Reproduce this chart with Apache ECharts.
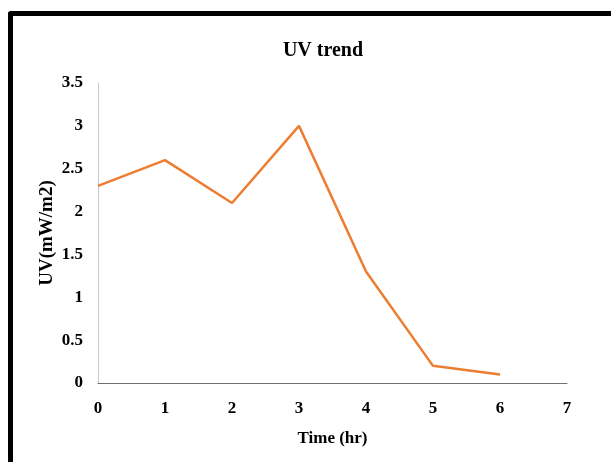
<!DOCTYPE html>
<html>
<head>
<meta charset="utf-8">
<script src="https://cdn.jsdelivr.net/npm/echarts@6/dist/echarts.min.js"></script>
<style>
  html, body { margin: 0; padding: 0; background: #fff; }
  #chart { width: 611px; height: 462px; }
</style>
</head>
<body>
<div id="chart"></div>
<script>
// Hourly UV readings
const hours = [0, 1, 2, 3, 4, 5, 6];
const uvValues = [2.3, 2.6, 2.1, 3.0, 1.3, 0.2, 0.1];

const serifBold = {
  fontFamily: '"Liberation Serif", "Times New Roman", serif',
  fontWeight: 'bold',
  color: '#000'
};

const chart = echarts.init(document.getElementById('chart'));
chart.setOption({
  animation: false,
  title: {
    text: 'UV trend',
    left: 318,
    top: 36,
    textAlign: 'center',
    textStyle: Object.assign({ fontSize: 20 }, serifBold)
  },
  grid: { left: 98, top: 83, right: 44, bottom: 79 },
  xAxis: {
    type: 'value',
    min: 0,
    max: 7,
    interval: 1,
    name: 'Time (hr)',
    nameLocation: 'middle',
    nameGap: 47,
    nameMoveOverlap: false,
    nameTextStyle: Object.assign({ fontSize: 17 }, serifBold),
    axisLine: { lineStyle: { color: '#707070', width: 1 } },
    axisTick: { show: false },
    splitLine: { show: false },
    axisLabel: Object.assign({ fontSize: 17, margin: 17 }, serifBold)
  },
  yAxis: {
    type: 'value',
    min: 0,
    max: 3.5,
    interval: 0.5,
    name: 'UV(mW/m2)',
    nameLocation: 'middle',
    nameGap: 41,
    nameMoveOverlap: false,
    nameTextStyle: Object.assign({ fontSize: 19 }, serifBold),
    axisLine: { show: true, lineStyle: { color: '#c8c8c8', width: 1 } },
    axisTick: { show: false },
    splitLine: { show: false },
    axisLabel: Object.assign({ fontSize: 17, margin: 15 }, serifBold)
  },
  series: [{
    type: 'line',
    data: hours.map((h, i) => [h, uvValues[i]]),
    symbol: 'none',
    lineStyle: { color: '#ED7D31', width: 2.5 }
  }],
  graphic: [{
    type: 'polyline',
    shape: { points: [[10.5, 470], [10.5, 13.5], [620, 13.5]] },
    style: { stroke: '#000', lineWidth: 5, fill: null, lineJoin: 'round' }
  }]
});
</script>
</body>
</html>
